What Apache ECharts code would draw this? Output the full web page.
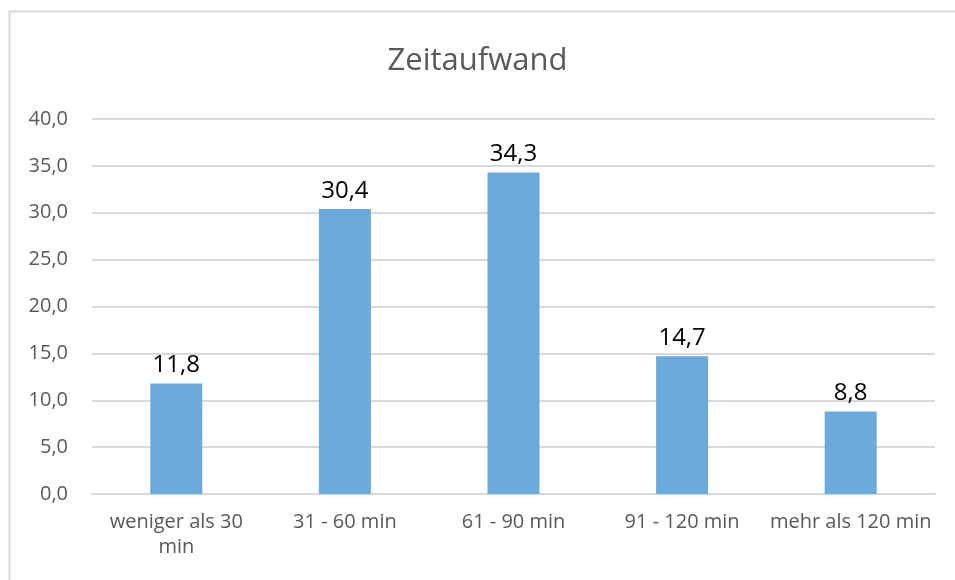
<!DOCTYPE html>
<html>
<head>
<meta charset="utf-8">
<script src="https://cdn.jsdelivr.net/npm/echarts@6/dist/echarts.min.js"></script>
<style>
  html, body { margin: 0; padding: 0; background: #fff; }
  #chart { width: 955px; height: 580px; }
</style>
</head>
<body>
<div id="chart"></div>
<script>
// Kategorien und Werte
const categories = ['weniger als 30 min', '31 - 60 min', '61 - 90 min', '91 - 120 min', 'mehr als 120 min'];
const values = [11.8, 30.4, 34.3, 14.7, 8.8];

const fmt = v => v.toFixed(1).replace('.', ',');

const chart = echarts.init(document.getElementById('chart'));

chart.setOption({
  textStyle: { fontFamily: 'Open Sans' },
  title: {
    text: 'Zeitaufwand',
    left: 'center',
    top: 41,
    textStyle: { color: '#595959', fontSize: 31, fontWeight: 'normal' }
  },
  grid: { top: 119, left: 92, right: 20, bottom: 86 },
  xAxis: {
    type: 'category',
    data: categories,
    axisTick: { show: false },
    axisLine: { lineStyle: { color: '#d9d9d9', width: 2 } },
    axisLabel: {
      color: '#595959',
      fontSize: 20,
      margin: 16,
      lineHeight: 25,
      interval: 0,
      formatter: v => v === 'weniger als 30 min' ? 'weniger als 30\nmin' : v
    }
  },
  yAxis: {
    type: 'value',
    min: 0,
    max: 40,
    interval: 5,
    axisLine: { show: false },
    axisTick: { show: false },
    splitLine: { lineStyle: { color: '#d9d9d9', width: 2 } },
    axisLabel: { color: '#595959', fontSize: 20, margin: 24, formatter: fmt }
  },
  series: [{
    type: 'bar',
    data: values,
    barWidth: 52,
    itemStyle: { color: '#6aaadc' },
    label: {
      show: true,
      position: 'top',
      distance: 6,
      color: '#000',
      fontSize: 24,
      formatter: p => fmt(p.value)
    }
  }],
  graphic: [{
    type: 'rect',
    left: 7,
    top: 9,
    shape: { width: 980, height: 620 },
    style: { fill: 'none', stroke: '#d9d9d9', lineWidth: 2 },
    silent: true
  }]
});
</script>
</body>
</html>
